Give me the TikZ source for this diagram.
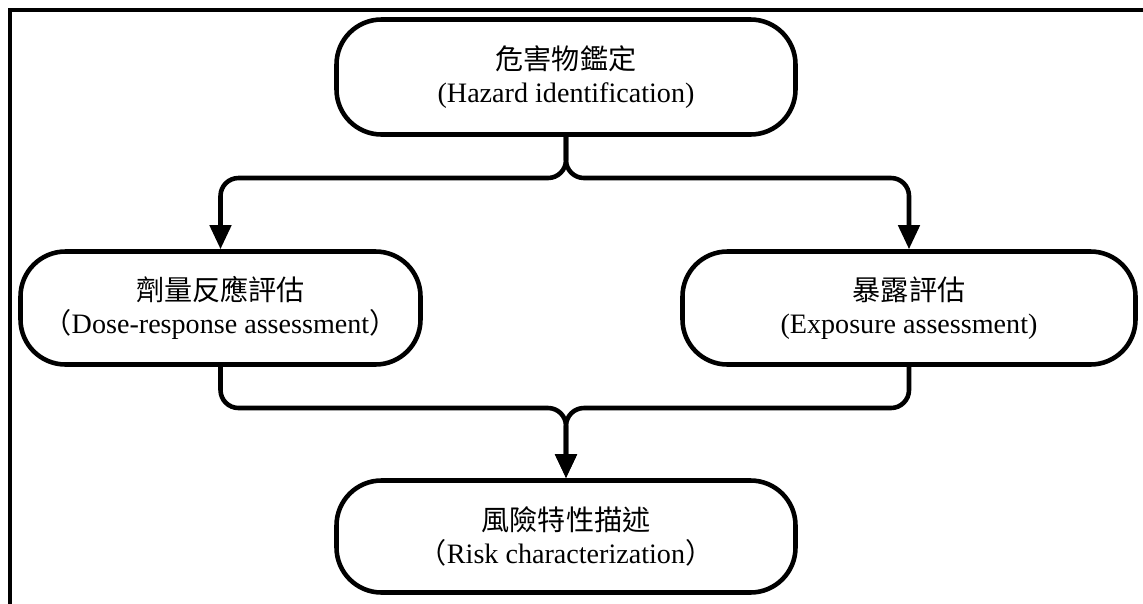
\documentclass[tikz,border=0pt]{standalone}
\usepackage{fontspec}
\setmainfont{Liberation Serif}
\newfontfamily\cjk{Noto Sans CJK TC}
\usetikzlibrary{arrows.meta}

\begin{document}
\begin{tikzpicture}[
		box/.style={draw,line width=2.6pt,rounded corners=0.9cm,align=center,font=\fontsize{16}{19}\selectfont},
		flow/.style={line width=2.6pt,rounded corners=0.36cm,-{Triangle[length=4.8mm,width=4.2mm]}}]
				\useasboundingbox (0,0) rectangle (22.86,-12.06);
				\draw[line width=2.2pt] (0.2,-12.5) -- (0.2,-0.2) -- (23.3,-0.2);
				\node[box,minimum width=9.18cm,minimum height=2.3cm] (hazard) at (11.32,-1.54) {{\cjk 危害物鑑定}\\(Hazard identification)};
				\node[box,minimum width=8cm,minimum height=2.26cm] (dose) at (4.41,-6.16) {{\cjk 劑量反應評估}\\{\cjk （}Dose-response assessment{\cjk ）}};
				\node[box,minimum width=9.06cm,minimum height=2.26cm] (expo) at (18.18,-6.16) {{\cjk 暴露評估}\\(Exposure assessment)};
				\node[box,minimum width=9.18cm,minimum height=2.24cm] (risk) at (11.32,-10.73) {{\cjk 風險特性描述}\\{\cjk （}Risk characterization{\cjk ）}};
				\coordinate (split) at (11.32,-3.56);
				\coordinate (merge) at (11.32,-8.16);
				\draw[flow] (hazard.south) -- (split) -| (dose.north);
				\draw[flow] (hazard.south) -- (split) -| (expo.north);
				\draw[flow] (dose.south) |- (merge) -- (risk.north);
				\draw[flow] (expo.south) |- (merge) -- (risk.north);
			\end{tikzpicture}
\end{document}
